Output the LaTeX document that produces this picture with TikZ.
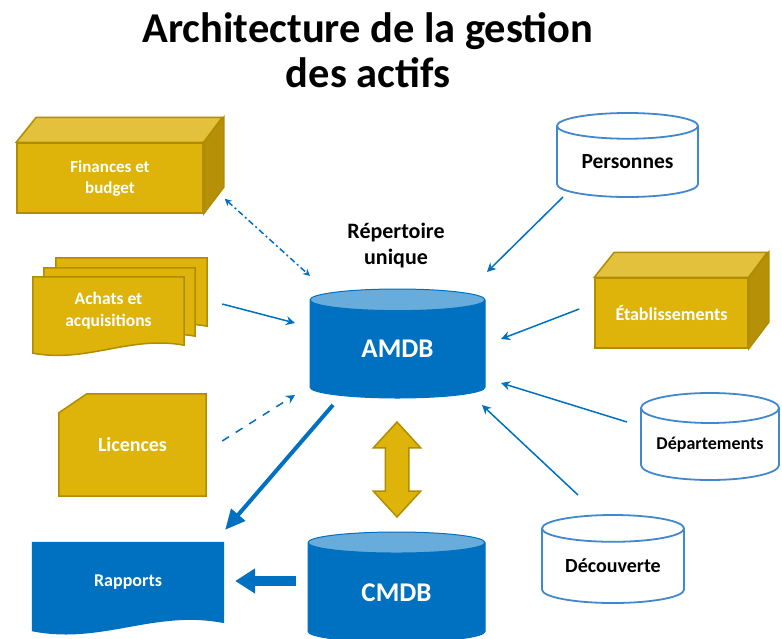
\documentclass[tikz,border=0pt]{standalone}
\usepackage{fontspec}
\setmainfont{Carlito}
\usetikzlibrary{positioning, shapes.geometric, shapes.arrows, arrows.meta, backgrounds}

\definecolor{gold}{RGB}{222,180,10}
\definecolor{goldtop}{RGB}{228,193,60}
\definecolor{goldside}{RGB}{182,145,8}
\definecolor{goldline}{RGB}{176,140,0}
\definecolor{azure}{RGB}{0,112,192}
\definecolor{azuretop}{RGB}{104,172,220}
\definecolor{azureline}{RGB}{66,136,204}

\tikzset{
  goldbox/.style={draw=goldline, line width=1.5pt, fill=gold, text=white, align=center, inner sep=0pt},
  goldtext/.style={text=white, align=center, inner sep=0pt},
  dbblue/.style={cylinder, shape border rotate=90, aspect=0.3, draw=azure, line width=1pt, anchor=shape center,
    cylinder uses custom fill, cylinder body fill=azure, cylinder end fill=azuretop,
    text=white, inner sep=0pt, font=\bfseries\fontsize{27}{30}\selectfont},
  dbwhite/.style={cylinder, shape border rotate=90, aspect=0.28, draw=azureline, line width=1.8pt, anchor=shape center,
    cylinder uses custom fill, cylinder body fill=white, cylinder end fill=white,
    inner sep=0pt},
  link/.style={draw=azure, line width=1.5pt, -{Stealth[length=9pt, width=9pt]}},
}

\begin{document}
\begin{tikzpicture}[x=1pt, y=-1pt]
    \useasboundingbox (0,0) rectangle (782,638);

    % titre
    \node[font=\bfseries\fontsize{42.5}{45}\selectfont, align=center] (title) at (368,50) {Architecture de la gestion\\des actifs};

    % sources a gauche
    \node[goldbox, minimum width=186, minimum height=70, font=\bfseries\fontsize{17}{21}\selectfont] (fin) at (110,178) {Finances et\\budget};
    \filldraw[fill=goldtop, draw=goldline, line width=1.5pt] (fin.north west) -- ++(20,-25) -- ++(186,0) -- (fin.north east) -- cycle;
    \filldraw[fill=goldside, draw=goldline, line width=1.5pt] (fin.north east) -- ++(20,-25) -- ++(0,70) -- (fin.south east) -- cycle;

    \node[goldtext, minimum width=151, minimum height=68, font=\bfseries\fontsize{17.5}{22}\selectfont] (ach) at (108.5,311) {Achats et\\acquisitions};
    \node[goldtext, minimum width=147, minimum height=102, font=\bfseries\fontsize{20}{24}\selectfont] (lic) at (132.5,445) {Licences};
    \node[goldtext, minimum width=192, minimum height=81, font=\bfseries\fontsize{18}{22}\selectfont] (rap) at (128,582.5) {Rapports};

    % centre
    \node[font=\bfseries\fontsize{22}{26}\selectfont, align=center] (rep) at (396,246) {Répertoire\\unique};
    \node[dbblue, minimum width=175, minimum height=109] (amdb) at (397.5,343.5) {AMDB};
    \node[dbblue, minimum width=177, minimum height=110] (cmdb) at (396.5,587) {CMDB};
    \node[double arrow, rotate=90, minimum height=95, minimum width=46, double arrow head extend=12,
          double arrow tip angle=85, inner xsep=0pt, inner ysep=11pt, fill=gold, draw=goldline, line width=1.5pt] (sync) at (397,469.5) {};

    % sources a droite
    \node[dbwhite, minimum width=141, minimum height=84, font=\bfseries\fontsize{21.5}{25}\selectfont] (pers) at (627.5,155) {Personnes};
    \node[goldbox, minimum width=153, minimum height=70, font=\bfseries\fontsize{18}{22}\selectfont] (etab) at (671.5,313) {Établissements};
    \filldraw[fill=goldtop, draw=goldline, line width=1.5pt] (etab.north west) -- ++(20,-25) -- ++(153,0) -- (etab.north east) -- cycle;
    \filldraw[fill=goldside, draw=goldline, line width=1.5pt] (etab.north east) -- ++(20,-25) -- ++(0,70) -- (etab.south east) -- cycle;
    \node[dbwhite, minimum width=138, minimum height=87, font=\bfseries\fontsize{18}{22}\selectfont] (dept) at (710,436.5) {Départements};
    \node[dbwhite, minimum width=142, minimum height=88, font=\bfseries\fontsize{20}{24}\selectfont] (dec) at (613,559) {Découverte};

    % formes dessinees derriere le texte
    \begin{scope}[on background layer]
        \foreach \dx/\dy in {23/-19, 11/-9, 0/0}
            \filldraw[fill=gold, draw=goldline, line width=1.5pt]
                ([shift={(\dx,\dy)}]ach.north west) -- ([shift={(\dx,\dy)}]ach.north east) -- ([shift={(\dx,\dy)}]ach.south east)
                .. controls +(-55,-10) and +(55,10) .. ([shift={(\dx,\dy+8)}]ach.south west) -- cycle;
        \filldraw[fill=gold, draw=goldline, line width=1.5pt]
            (lic.south west) -- ([yshift=-19pt]lic.north west) -- ([xshift=28pt]lic.north west) -- (lic.north east) -- (lic.south east) -- cycle;
        \fill[azure] (rap.north west) -- (rap.north east) -- (rap.south east)
            .. controls +(-70,-14) and +(70,14) .. ([yshift=-8pt]rap.south west) -- cycle;
    \end{scope}

    % liaisons
    \draw[link, dash pattern=on 6pt off 3pt on 2pt off 3pt, {Stealth[length=7pt, width=7pt]}-{Stealth[length=7pt, width=7pt]}] ([shift={(21,-15)}]fin.south east) -- ([shift={(-87.5,-67.5)}]amdb.shape center);
    \draw[link] ([shift={(38,-7)}]ach.east) -- ([shift={(-102.5,-20.5)}]amdb.shape center);
    \draw[link, dash pattern=on 8pt off 8pt] ([shift={(16,-4)}]lic.east) -- ([shift={(-102.5,51.5)}]amdb.shape center);
    \draw[link, line width=4pt, -{Triangle[length=20pt, width=18pt]}] ([shift={(-64.5,61.5)}]amdb.shape center) -- ([shift={(1,-12)}]rap.north east);
    \draw[link, line width=10pt, -{Triangle[length=20pt, width=24pt]}] ([shift={(-100.5,-6)}]cmdb.shape center) -- ([shift={(11,-1.5)}]rap.east);
    \draw[link] ([shift={(-64.5,42)}]pers.shape center) -- ([shift={(89.5,-71.5)}]amdb.shape center);
    \draw[link] ([shift={(-15,-4)}]etab.west) -- ([shift={(103.5,-4.5)}]amdb.shape center);
    \draw[link] ([shift={(-83,-14.5)}]dept.shape center) -- ([shift={(103.5,39.5)}]amdb.shape center);
    \draw[link] ([shift={(-35,-64)}]dec.shape center) -- ([shift={(84.5,61.5)}]amdb.shape center);
\end{tikzpicture}
\end{document}
